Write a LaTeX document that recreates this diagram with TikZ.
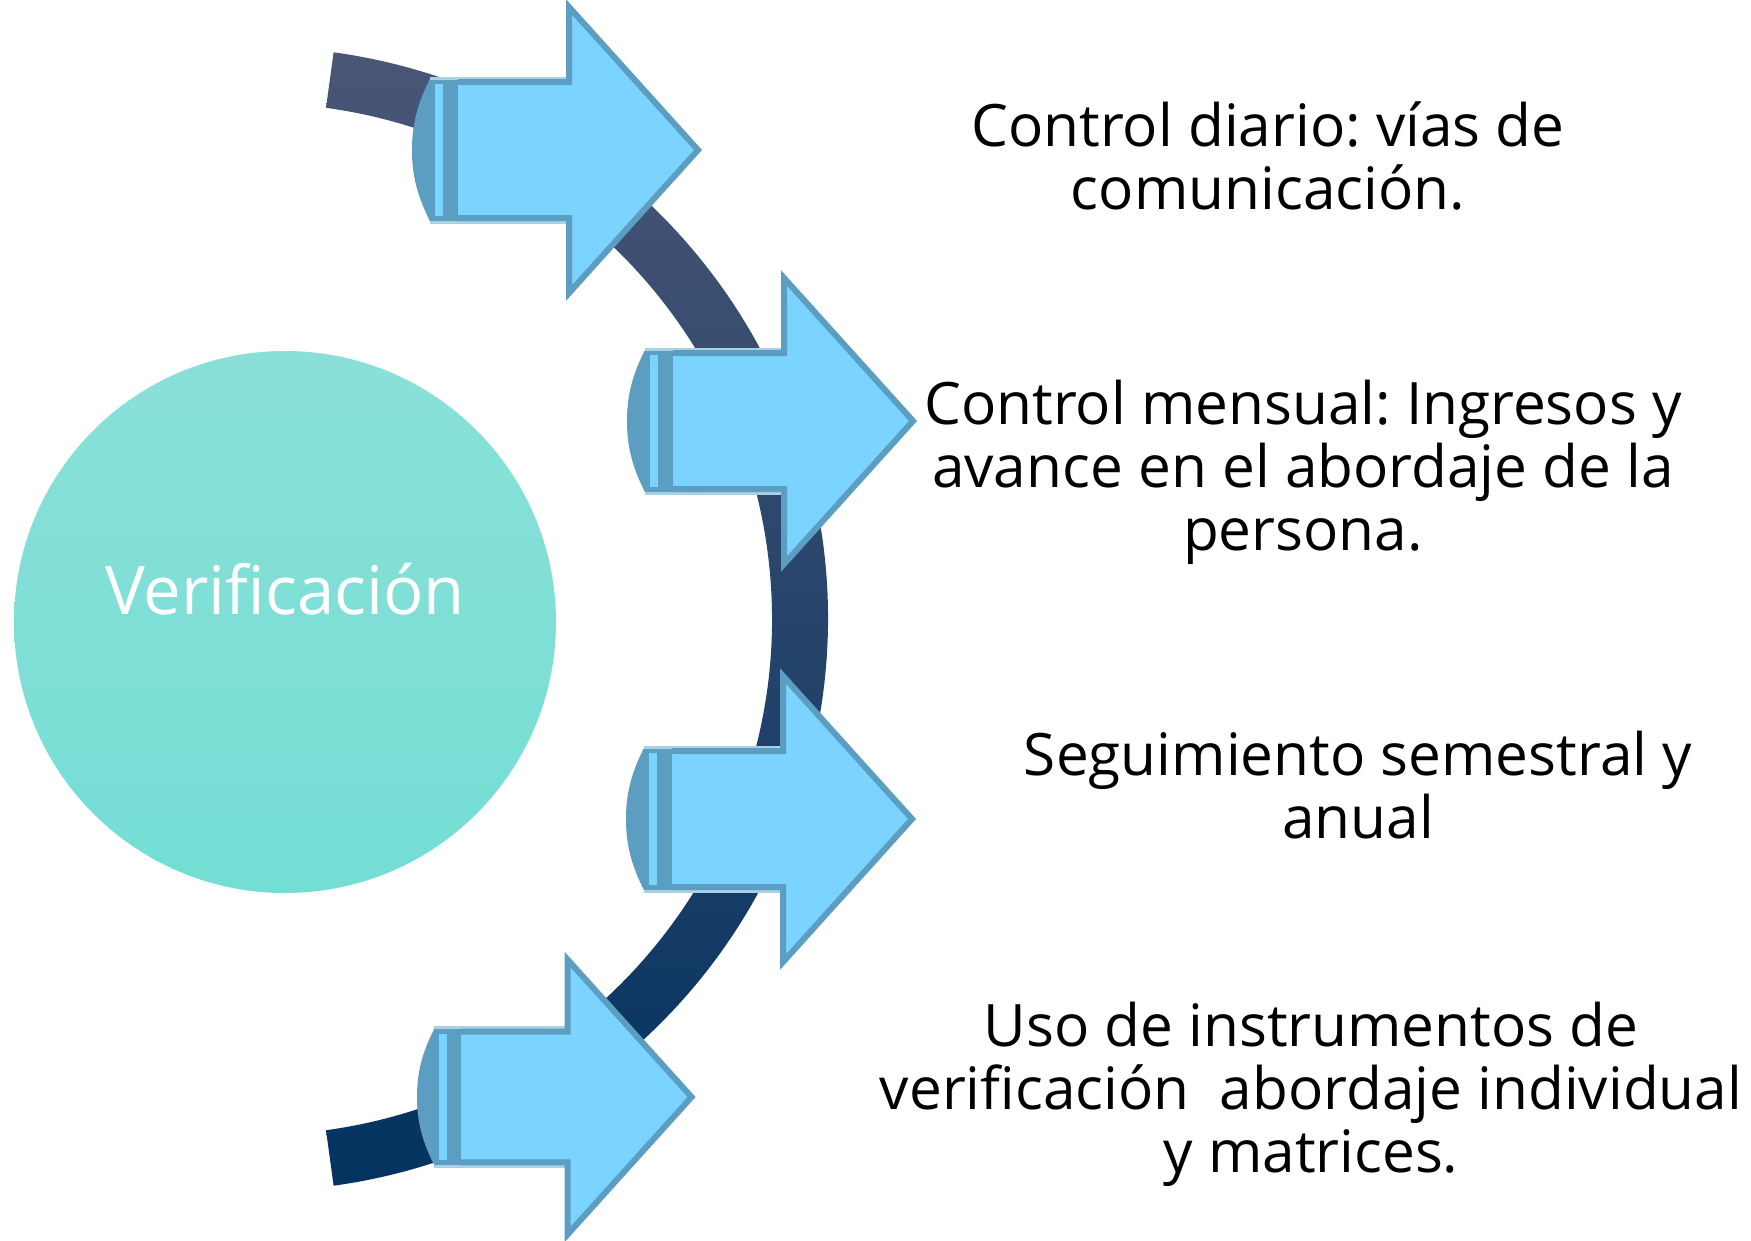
\documentclass[tikz,border=0pt]{standalone}
\usepackage{fontspec}
\setmainfont{Open Sans}
\frenchspacing
\definecolor{arrowfill}{RGB}{123,211,255}
\definecolor{arrowedge}{RGB}{91,158,193}
\definecolor{arrowlite}{RGB}{169,209,227}
\definecolor{arctop}{RGB}{74,86,118}
\definecolor{arcbot}{RGB}{3,51,96}
\definecolor{circtop}{RGB}{138,224,216}
\definecolor{circbot}{RGB}{116,222,212}
\tikzset{
  label text/.style={font=\fontsize{58.5}{63}\selectfont, align=center, anchor=base, inner sep=0pt, text=black},
  pics/bigarrow/.style={code={
    \fill[arrowedge] (18,-71) -- (46,-71) -- (46,71) -- (18,71)
        .. controls (3,42) and (0,20) .. (0,0)
        .. controls (0,-20) and (3,-42) .. (18,-71) -- cycle;
    \draw[arrowlite, line width=3pt] (18,-72) -- (157,-72);
    \draw[arrowlite, line width=3pt] (18,72) -- (157,72);
    \filldraw[fill=arrowfill, draw=arrowedge, line width=6pt, line join=miter]
        (46,-68) -- (157,-68) -- (157,-143) -- (286,0) -- (157,143) -- (157,68) -- (46,68);
    \fill[arrowfill] (46,-65) rectangle (50,65);
    \fill[arrowedge] (31,-68) rectangle (46,68);
    \fill[arrowfill] (23,-66) rectangle (31,66);
  }}
}
\begin{document}
\begin{tikzpicture}[x=1pt,y=-1pt]
\useasboundingbox (0,0) rectangle (1751,1240);
\fill[white] (0,0) rectangle (1751,1240);
% circle
\node[circle, minimum size=542pt, inner sep=0pt, top color=circtop, bottom color=circbot, draw=none] (verif) at (285,622) {};
\node[label text, font=\fontsize{67}{72}\selectfont, text=white] (veriftext) at (285,614) {Verificación};
% arc
\shade[top color=arctop, bottom color=arcbot]
  ({256+572*cos(-82.2)},{619+572*sin(-82.2)})
  arc[start angle=-82.2, end angle=82.2, radius=572]
  -- ({256+516*cos(82.2)},{619+516*sin(82.2)})
  arc[start angle=82.2, end angle=-82.2, radius=516]
  -- cycle;
% arrows
\pic at (412,150) {bigarrow};
\pic at (627,421) {bigarrow};
\pic at (626,819) {bigarrow};
\pic[scale=0.96] at (417,1097) {bigarrow};
% texts (anchored at the baseline of the last line)
\node[label text] (t1) at (1268,209) {Control diario: vías de\\comunicación.};
\node[label text] (t2) at (1303,550) {Control mensual: Ingresos y\\avance en el abordaje de la\\persona.};
\node[label text] (t3) at (1358,838) {Seguimiento semestral y\\anual};
\node[label text] (t4) at (1311,1172) {Uso de instrumentos de\\verificación\ \ abordaje individual\\y matrices.};
\end{tikzpicture}
\end{document}
